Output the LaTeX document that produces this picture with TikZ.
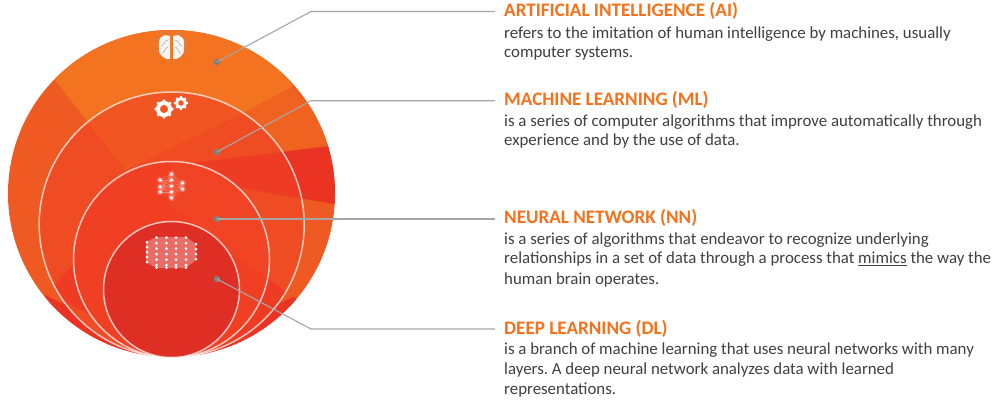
\documentclass[tikz,border=0pt]{standalone}
\usepackage{fontspec}
\setmainfont{Carlito}
\definecolor{aic}{HTML}{F37321}
\definecolor{aib}{HTML}{F0621F}
\definecolor{ail}{HTML}{EF5A23}
\definecolor{air}{HTML}{EA3323}
\definecolor{mla}{HTML}{F15522}
\definecolor{mlb}{HTML}{F04C23}
\definecolor{mlc}{HTML}{EE3B24}
\definecolor{nnc}{HTML}{F03F23}
\definecolor{nnb}{HTML}{F04424}
\definecolor{dlc}{HTML}{DF2F24}
\definecolor{head}{HTML}{F5711C}
\definecolor{txt}{HTML}{404040}
\definecolor{lead}{HTML}{A6A6A6}
\definecolor{dotc}{HTML}{7F8080}
\tikzset{
 x=1pt,y=-1pt,
 ringline/.style={draw=white,draw opacity=.7,line width=1.5pt},
 leadline/.style={draw=lead,line width=1.1pt},
 leaddot/.style={circle,fill=dotc,inner sep=0pt,minimum size=6.5pt},
 headtext/.style={anchor=base west,inner sep=0pt,text=head,font=\fontsize{19.1}{21}\selectfont\bfseries\frenchspacing},
 bodytext/.style={anchor=base west,inner sep=0pt,text=txt,font=\fontsize{16.85}{19}\selectfont\frenchspacing},
 net/.style={fill=white,circle,inner sep=0pt},
 halo/.style={fill=white,fill opacity=.3,circle,inner sep=0pt}
}
\begin{document}
\begin{tikzpicture}
\useasboundingbox (0,0) rectangle (998,399);
\fill[white] (0,0) rectangle (998,399);
% outer disc with sectors
\begin{scope}
\clip (171.5,193.5) circle[radius=163.5];
\fill[ail] (0,0) rectangle (340,360);
\fill[aic] (55,80) -- (88,122) -- (245,112) -- (292,87) -- (300,0) -- (40,0) -- cycle;
\fill[aib] (245,112) -- (292,87) -- (340,140) -- (340,145) -- (197,162) -- cycle;
\fill[air] (136,170) -- (340,144.7) -- (340,205) -- cycle;
\fill[air] (45,295) -- (171,357) -- (293,297) -- (300,300) -- (300,399) -- (40,399) -- cycle;
\end{scope}
% ML
\begin{scope}
\clip (171.7,224.5) circle[radius=132.5];
\fill[mlb] (30,80) rectangle (310,360);
\fill[mla] (86,120) -- (125,170) -- (245,112) -- (250,90) -- (80,90) -- cycle;
\fill[mlc] (136,170) -- (340,144.7) -- (340,205) -- cycle;
\fill[mlc] (47,293) -- (100,236) -- (175,357) -- cycle;
\fill[mlc] (233,253) -- (293,297) -- (240,360) -- (171,357) -- cycle;
\end{scope}
\draw[ringline] (171.7,224.5) circle[radius=132.5];
% NN
\fill[nnc] (171.5,259.5) circle[radius=98];
\begin{scope}
\clip (171.5,259.5) circle[radius=98];
\fill[nnb] (171,205) -- (275,285) -- (275,155) -- (171,155) -- cycle;
\end{scope}
\draw[ringline] (171.5,259.5) circle[radius=98];
% DL
\fill[dlc] (171.5,289.5) circle[radius=68];
\draw[ringline] (171.5,289.5) circle[radius=68];
% brain icon
\fill[white!92!gray] (170,36) .. controls (160,33) and (158,40) .. (159,48) .. controls (158,56) and (166,60) .. (170,59) -- cycle;
\fill[white!92!gray] (173,36) .. controls (183,33) and (185,40) .. (184,48) .. controls (185,56) and (177,60) .. (173,59) -- cycle;
\draw[gray!70,line width=.5pt] (168,40) .. controls (163,41) and (165,45) .. (161,46) (168,47) .. controls (164,48) and (166,52) .. (162,53) (175,40) .. controls (180,41) and (178,45) .. (182,46) (175,47) .. controls (179,48) and (177,52) .. (181,53);
\foreach \a/\b in {162/33,168/32,176/33,181/33,156/39,187/40,155/45,187/45,155/51,187/51,168/61,175/61}
  \fill[gray!80] (\a,\b) circle[radius=.9];
% gears
\draw[white,line width=4pt] (164,109) circle[radius=6];
\foreach \t in {0,45,...,315} \fill[white] (164,109) ++(\t:8.2) circle[radius=1.7];
\draw[white,line width=3pt] (181,103) circle[radius=4.5];
\foreach \t in {0,45,...,315} \fill[white] (181,103) ++(\t:6.2) circle[radius=1.2];
% nn icon
\foreach \a/\b in {160/180,160/187,160/192} \foreach \c in {174,180,186,192,198}
  \draw[white,opacity=.3,line width=.4pt] (\a,\b) -- (171.5,\c);
\foreach \b in {183,189} \foreach \c in {174,180,186,192,198}
  \draw[white,opacity=.3,line width=.4pt] (182.7,\b) -- (171.5,\c);
\foreach \a/\b in {171.5/174,171.5/180,171.5/186,171.5/192,171.5/198,160/180,160/187,160/192,182.7/183,182.7/189}{
  \node[halo,minimum size=6pt] at (\a,\b) {};
  \node[net,minimum size=3.2pt] at (\a,\b) {};}
% dl icon
\fill[white,opacity=.3] (146,242) -- (156,237) -- (186,237) -- (196,244) -- (196,260) -- (186,268) -- (156,268) -- (146,262) -- cycle;
\foreach \a in {156.5,166.5,176,186} \foreach \b in {237.5,243,248.5,254,259.5,265}
  \node[net,minimum size=3pt] at (\a,\b) {};
\foreach \a in {156.5,166.5,176,186} \node[net,minimum size=3pt] at (\a,267.5) {};
\foreach \b in {242,247,252,257,262} \node[net,minimum size=3pt] at (147,\b) {};
\foreach \b in {244,249,254,259} \node[net,minimum size=3pt] at (196,\b) {};
% leaders
\node[leaddot] (d1) at (217,62) {};
\node[leaddot] (d2) at (217,152) {};
\node[leaddot] (d3) at (217,219) {};
\node[leaddot] (d4) at (217,279) {};
\coordinate (k1) at (311,11.5);
\coordinate (k2) at (311,100.7);
\coordinate (k4) at (311,329);
\coordinate (e1) at (495,11.5);
\coordinate (e2) at (495,100.7);
\coordinate (e3) at (495,219);
\coordinate (e4) at (495,329);
\draw[leadline] (d1.center) -- (k1) -- (e1);
\draw[leadline] (d2.center) -- (k2) -- (e2);
\draw[leadline] (d3.center) -- (e3);
\draw[leadline] (d4.center) -- (k4) -- (e4);
% text
\node[headtext] (h1) at (504,16.7) {ARTIFICIAL INTELLIGENCE (AI)};
\node[bodytext] (t11) at (504,38) {refers to the imitation of human intelligence by machines, usually};
\node[bodytext] (t12) at (504,57) {computer systems.};
\node[headtext] (h2) at (504,105.5) {MACHINE LEARNING (ML)};
\node[bodytext] (t21) at (504,126) {is a series of computer algorithms that improve automatically through};
\node[bodytext] (t22) at (504,145.5) {experience and by the use of data.};
\node[headtext] (h3) at (504,223) {NEURAL NETWORK (NN)};
\node[bodytext] (t31) at (504,244) {is a series of algorithms that endeavor to recognize underlying};
\node[bodytext] (t32) at (504,263.5) {relationships in a set of data through a process that \underline{mimics} the way the};
\node[bodytext] (t33) at (504,284) {human brain operates.};
\node[headtext] (h4) at (504,334) {DEEP LEARNING (DL)};
\node[bodytext] (t41) at (504,354) {is a branch of machine learning that uses neural networks with many};
\node[bodytext] (t42) at (504,374) {layers. A deep neural network analyzes data with learned};
\node[bodytext] (t43) at (504,394) {representations.};
\end{tikzpicture}
\end{document}
